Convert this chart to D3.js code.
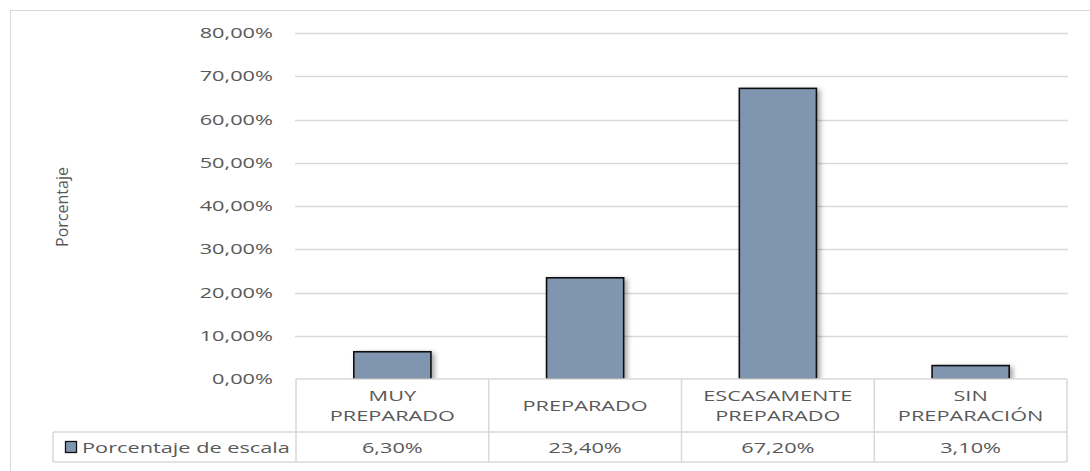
<!DOCTYPE html>
<html>
<head>
<meta charset="utf-8">
<script src="https://cdn.jsdelivr.net/npm/d3@7"></script>
<style>
  body { margin: 0; background: #fff; }
  svg text { font-family: "Open Sans", sans-serif; fill: #595959; }
</style>
</head>
<body>
<svg id="svg" width="1090" height="471"></svg>
<script>
(function() {

    const categories = [["MUY", "PREPARADO"], ["PREPARADO"], ["ESCASAMENTE", "PREPARADO"], ["SIN", "PREPARACIÓN"]]
    const values = [6.3, 23.4, 67.2, 3.1]
    const valueLabels = ["6,30%", "23,40%", "67,20%", "3,10%"]
    const yTicks = [0, 10, 20, 30, 40, 50, 60, 70, 80]
    const seriesName = "Porcentaje de escala"
    const yTitle = "Porcentaje"

    const svg = d3.select('#svg')
    const sx = 1.45 // text in the original looks stretched sideways
    const fontSize = 15
    const plotLeft = 296, plotRight = 1067, plotTop = 33, plotBottom = 379
    const rowSplit = 432, tableBottom = 462, legendLeft = 53
    const barFill = '#8096b0', gridColor = '#d9d9d9'

    const x = d3.scaleBand()
        .domain(d3.range(values.length))
        .range([plotLeft, plotRight])
        .paddingInner(0.6)
        .paddingOuter(0.3)

    const y = d3.scaleLinear()
        .domain([0, 80])
        .range([plotBottom, plotTop])

    function stretchedText(g, tx, ty, str, anchor) {
        return g.append('text')
            .attr('transform', 'translate(' + tx + ',' + ty + ') scale(' + sx + ',1)')
            .attr('text-anchor', anchor)
            .style('font-size', fontSize + 'px')
            .text(str)
    }

    // outer chart border
    svg.append('rect')
        .attr('x', 10.5).attr('y', 10.5)
        .attr('width', 1090).attr('height', 480)
        .attr('fill', 'none')
        .style('stroke', gridColor)

    // shadow for bars
    const defs = svg.append('defs')
    const filter = defs.append('filter').attr('id', 'shadow')
        .attr('x', '-20%').attr('y', '-20%').attr('width', '150%').attr('height', '140%')
    filter.append('feDropShadow')
        .attr('dx', 3).attr('dy', 2).attr('stdDeviation', 2.5)
        .attr('flood-color', '#000').attr('flood-opacity', 0.35)

    // gridlines
    svg.selectAll('.grid')
        .data(yTicks.filter(d => d > 0))
        .enter()
        .append('line')
            .attr('x1', plotLeft - 1)
            .attr('x2', plotRight + 1)
            .attr('y1', d => Math.round(y(d)) + 0.5)
            .attr('y2', d => Math.round(y(d)) + 0.5)
            .style('stroke', gridColor)
            .style('stroke-width', 1.5)

    // y tick labels
    yTicks.forEach(t => {
        stretchedText(svg, 273, y(t) + 5, d3.format('.2f')(t).replace('.', ',') + '%', 'end')
    })

    // y axis title
    svg.append('text')
        .attr('transform', 'translate(68,' + 207 + ') rotate(-90)')
        .attr('text-anchor', 'middle')
        .style('font-size', '16px')
        .style('font-family', '"Liberation Sans Narrow", "Open Sans", sans-serif')
        .text(yTitle)

    // bars
    svg.selectAll('.bar')
        .data(values)
        .enter()
        .append('rect')
            .attr('x', (d, i) => x(i))
            .attr('y', d => y(d))
            .attr('width', x.bandwidth())
            .attr('height', d => plotBottom - y(d))
            .attr('fill', barFill)
            .style('stroke', '#111')
            .style('stroke-width', 1.6)
            .attr('filter', 'url(#shadow)')

    // data table
    const table = svg.append('g')
    const step = x.step()
    const colEdges = d3.range(values.length + 1).map(i => plotLeft + i * step)

    table.append('rect')
        .attr('x', plotLeft).attr('y', plotBottom)
        .attr('width', plotRight - plotLeft).attr('height', rowSplit - plotBottom)
        .attr('fill', '#fff')
    table.append('rect')
        .attr('x', legendLeft).attr('y', rowSplit)
        .attr('width', plotRight - legendLeft).attr('height', tableBottom - rowSplit)
        .attr('fill', '#fff')

    const lineStyle = sel => sel.style('stroke', gridColor).style('stroke-width', 1.5)
    table.append('line').attr('x1', plotLeft).attr('x2', plotRight)
        .attr('y1', plotBottom).attr('y2', plotBottom).call(lineStyle)
    table.append('line').attr('x1', legendLeft).attr('x2', plotRight)
        .attr('y1', rowSplit).attr('y2', rowSplit).call(lineStyle)
    table.append('line').attr('x1', legendLeft).attr('x2', plotRight)
        .attr('y1', tableBottom).attr('y2', tableBottom).call(lineStyle)
    table.append('line').attr('x1', legendLeft).attr('x2', legendLeft)
        .attr('y1', rowSplit).attr('y2', tableBottom).call(lineStyle)
    colEdges.forEach(cx => {
        table.append('line').attr('x1', cx).attr('x2', cx)
            .attr('y1', plotBottom).attr('y2', tableBottom).call(lineStyle)
    })

    // category labels
    categories.forEach((lines, i) => {
        const cx = x(i) + x.bandwidth() / 2
        const mid = (plotBottom + rowSplit) / 2
        lines.forEach((ln, j) => {
            const ty = mid + 5 + (j - (lines.length - 1) / 2) * 20
            stretchedText(table, cx, ty, ln, 'middle')
        })
    })

    // value row
    valueLabels.forEach((v, i) => {
        const cx = x(i) + x.bandwidth() / 2
        stretchedText(table, cx, (rowSplit + tableBottom) / 2 + 6, v, 'middle')
    })

    // legend key
    table.append('rect')
        .attr('x', 65.5).attr('y', 441.5)
        .attr('width', 11).attr('height', 11)
        .attr('fill', barFill)
        .style('stroke', '#111')
        .style('stroke-width', 1.3)
    stretchedText(table, 82, (rowSplit + tableBottom) / 2 + 6, seriesName, 'start')

})();
</script>
</body>
</html>
